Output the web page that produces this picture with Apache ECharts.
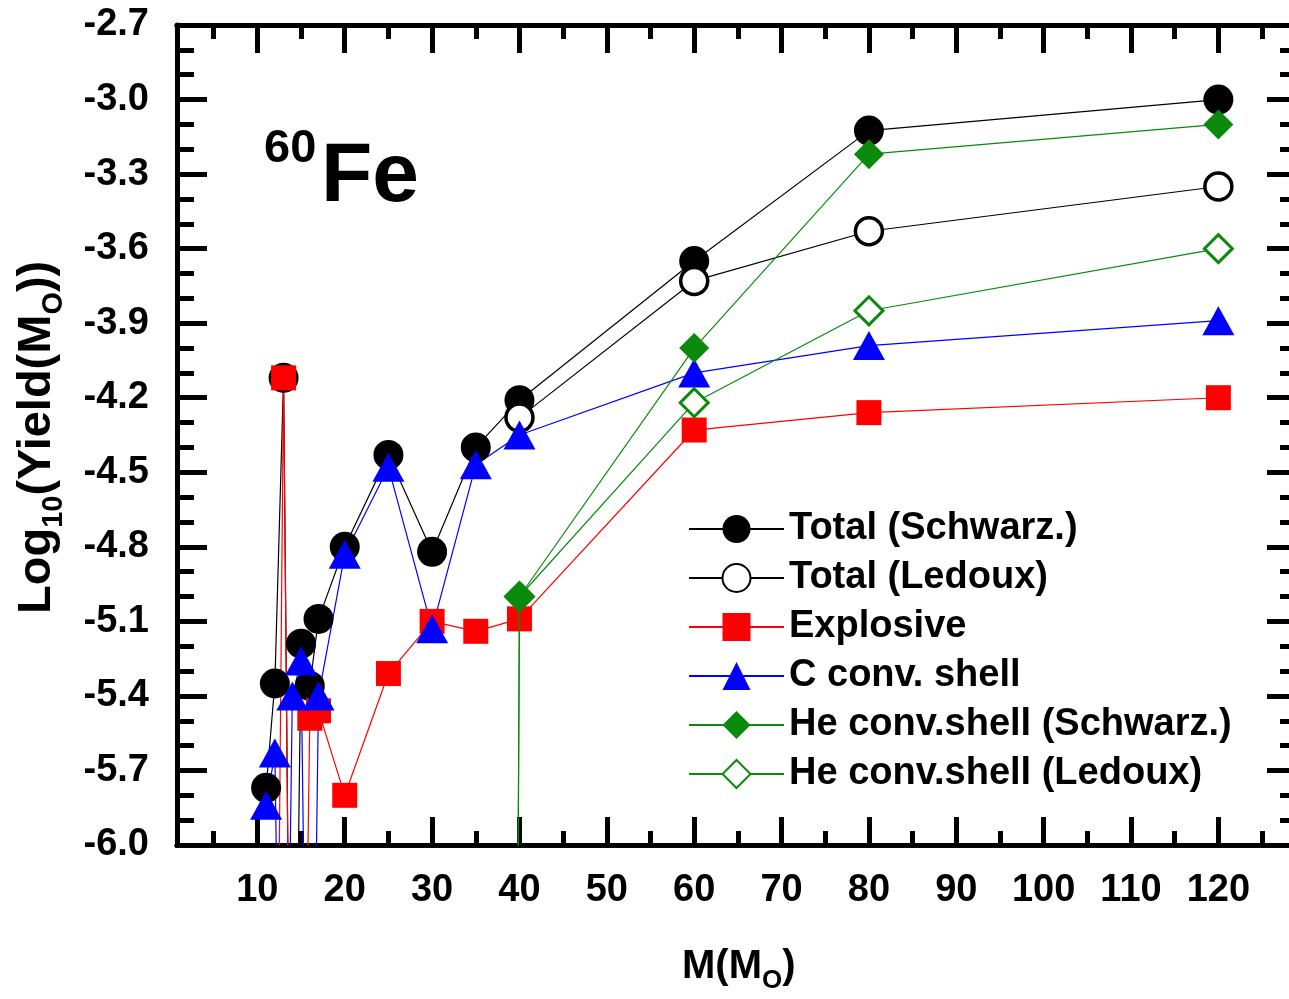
<!DOCTYPE html>
<html>
<head>
<meta charset="utf-8">
<script src="https://cdn.jsdelivr.net/npm/echarts@6/dist/echarts.min.js"></script>
<style>
html,body{margin:0;padding:0;background:#fff;overflow:hidden;width:1289px;height:999px;}
#c{width:1320px;height:999px;}
</style>
</head>
<body>
<div id="c"></div>
<script>
// ---- data ----
const massMain = [11, 12, 13, 14, 15, 16, 17, 20, 25, 30, 35, 40, 60, 80, 120];
// values far below -6.0 are points that fall off the bottom of the plot
const totalSchwarz = [-5.77, -5.35, -4.12, -8.0, -5.19, -5.36, -5.09, -4.80, -4.43, -4.82, -4.40, -4.21, -3.65, -3.125, -3.00];
const explosive    = [-8.0, -8.0, -4.12, -8.0, -8.0, -5.49, -5.46, -5.80, -5.31, -5.10, -5.14, -5.09, -4.33, -4.26, -4.20];
const cConvShell   = [-5.84, -5.63, -8.0, -5.40, -5.26, -8.0, -5.40, -4.83, -4.48, -5.13, -4.47, -4.35, -4.10, -3.99, -3.89];
const massLedoux = [40, 60, 80, 120];
const totalLedoux = [-4.28, -3.73, -3.53, -3.35];
const massHe = [35, 40, 60, 80, 120];
const heSchwarz = [-40, -5.00, -4.00, -3.22, -3.10];
const heLedoux  = [-40, -5.00, -4.22, -3.85, -3.60];
const xMajorTicks = [10, 20, 30, 40, 50, 60, 70, 80, 90, 100, 110, 120];
const xMinorTicks = [5, 15, 25, 35, 45, 55, 65, 75, 85, 95, 105, 115, 125];
const seriesNames = ['Total (Schwarz.)', 'Total (Ledoux)', 'Explosive', 'C conv. shell', 'He conv.shell (Schwarz.)', 'He conv.shell (Ledoux)'];

function pairs(xs, ys) { return xs.map((x, i) => [x, ys[i]]); }

const FONT = 'Liberation Sans';
const X_MIN = 0.8, X_MAX = 129;
const Y_MIN = -6.0, Y_MAX = -2.7;

function xAx(pos, ticks, len, labels) {
  return {
    type: 'value', min: X_MIN, max: X_MAX, position: pos,
    axisLine: { show: true, onZero: false, lineStyle: { color: '#000', width: 5 } },
    axisTick: { show: true, inside: true, length: len, lineStyle: { color: '#000', width: 5 }, customValues: ticks },
    axisLabel: labels ? { show: true, customValues: ticks, fontFamily: FONT, fontWeight: 'bold', fontSize: 38, color: '#000', margin: 27 } : { show: false },
    splitLine: { show: false }
  };
}
function yAx(pos, labels) {
  return {
    type: 'value', min: Y_MIN, max: Y_MAX, interval: 0.3, position: pos,
    axisLine: { show: true, onZero: false, lineStyle: { color: '#000', width: 5 } },
    axisTick: { show: true, inside: true, length: 30, lineStyle: { color: '#000', width: 5 } },
    minorTick: { show: true, splitNumber: 3, length: 17, lineStyle: { color: '#000', width: 5 } },
    axisLabel: labels ? { show: true, fontFamily: FONT, fontWeight: 'bold', fontSize: 38, color: '#000', margin: 28,
      formatter: v => v.toFixed(1) } : { show: false },
    splitLine: { show: false }, minorSplitLine: { show: false }
  };
}

const chart = echarts.init(document.getElementById('c'), null, { renderer: 'canvas' });
const lineW = 1.2;
chart.setOption({
  backgroundColor: '#fff',
  animation: false,
  grid: { left: 177, top: 25, width: 1120, height: 820, containLabel: false, outerBoundsMode: 'none' },
  xAxis: [xAx('bottom', xMajorTicks, 28, true), xAx('bottom', xMinorTicks, 14, false),
          xAx('top', xMajorTicks, 28, false), xAx('top', xMinorTicks, 14, false)],
  yAxis: [yAx('left', true), yAx('right', false)],
  legend: {
    orient: 'vertical', left: 683, top: 505, itemWidth: 95, itemHeight: 35, itemGap: 11,
    textStyle: { fontFamily: FONT, fontWeight: 'bold', fontSize: 38, color: '#000' },
    data: seriesNames
  },
  graphic: [
    { type: 'text', left: 264, top: 126, style: { text: '60', font: 'bold 47px "Liberation Sans"', fill: '#000' } },
    { type: 'text', left: 321, top: 136, style: { text: 'Fe', font: 'bold 84px "Liberation Sans"', fill: '#000' } },
    { type: 'text', x: 14, y: 614, rotation: Math.PI / 2,
      style: { text: '{a|Log}{s|10}{a|(Yield(M}{s|O}{a|))}', rich: {
        a: { fontFamily: FONT, fontWeight: 'bold', fontSize: 47, fill: '#000', verticalAlign: 'bottom' },
        s: { fontFamily: FONT, fontWeight: 'bold', fontSize: 29, fill: '#000', verticalAlign: 'bottom', padding: [0, 0, -7, 0] } } } },
    { type: 'text', left: 682, top: 947,
      style: { text: '{a|M(M}{s|O}{a|)}', rich: {
        a: { fontFamily: FONT, fontWeight: 'bold', fontSize: 40, fill: '#000', verticalAlign: 'bottom' },
        s: { fontFamily: FONT, fontWeight: 'bold', fontSize: 26, fill: '#000', verticalAlign: 'bottom', padding: [0, 0, -7, 0] } } } }
  ],
  series: [
    { name: seriesNames[0], type: 'line', data: pairs(massMain, totalSchwarz), symbol: 'circle', symbolSize: 30,
      itemStyle: { color: '#000' }, lineStyle: { color: '#000', width: lineW }, z: 2 },
    { name: seriesNames[1], type: 'line', data: pairs(massLedoux, totalLedoux), symbol: 'circle', symbolSize: 27,
      itemStyle: { color: '#fff', borderColor: '#000', borderWidth: 3.5 }, lineStyle: { color: '#000', width: lineW }, z: 2 },
    { name: seriesNames[2], type: 'line', data: pairs(massMain, explosive), symbol: 'rect', symbolSize: 25,
      itemStyle: { color: '#ff0000' }, lineStyle: { color: '#ff0000', width: lineW }, z: 2 },
    { name: seriesNames[3], type: 'line', data: pairs(massMain, cConvShell), symbol: 'triangle', symbolSize: [32, 29],
      itemStyle: { color: '#0000ff' }, lineStyle: { color: '#0000ff', width: lineW }, z: 2 },
    { name: seriesNames[4], type: 'line', data: pairs(massHe, heSchwarz), symbol: 'diamond', symbolSize: 30,
      itemStyle: { color: '#0a8a0a' }, lineStyle: { color: '#0a8a0a', width: lineW }, z: 4 },
    { name: seriesNames[5], type: 'line', data: pairs(massHe, heLedoux), symbol: 'diamond', symbolSize: 28,
      itemStyle: { color: '#fff', borderColor: '#0a8a0a', borderWidth: 3 }, lineStyle: { color: '#0a8a0a', width: lineW }, z: 3 }
  ]
});
</script>
</body>
</html>
